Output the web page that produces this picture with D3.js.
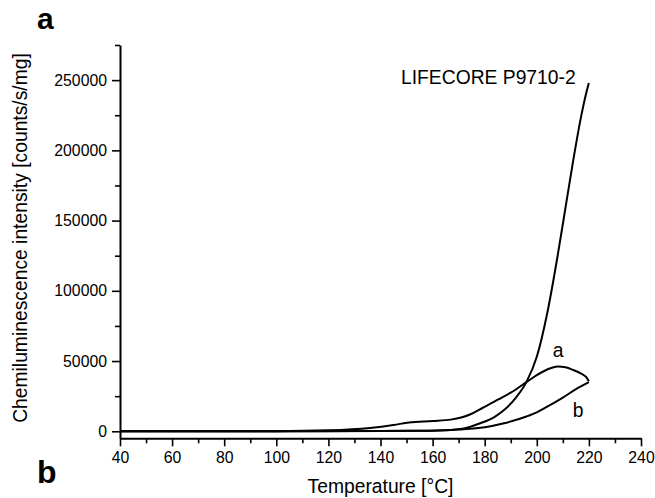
<!DOCTYPE html>
<html>
<head>
<meta charset="utf-8">
<script src="https://cdn.jsdelivr.net/npm/d3@7"></script>
<style>
  body { margin: 0; background: #fff; }
  text { font-family: "Liberation Sans", Arial, sans-serif; fill: #000; }
</style>
</head>
<body>
<div id="chart"></div>
<script>
const w = 655
const h = 498

// Temperature [°C] and intensity [counts/s/mg]
const mainTemps = [40, 100, 130, 150, 165, 172, 178, 184, 188, 192, 196, 200, 204, 208, 211, 214, 217, 219, 220]
const mainVals = [0, 50, 150, 300, 800, 2000, 5500, 10500, 16000, 24000, 35000, 53000, 84000, 125000, 159000, 193000, 224000, 241000, 248000]

const aTemps = [40, 100, 120, 136, 145, 151, 160, 167, 171, 175, 178, 185, 190, 196, 200, 204, 208, 211, 214, 217, 219, 220]
const aVals = [0, 100, 700, 2400, 4500, 6300, 7300, 8300, 9800, 12500, 15400, 22500, 27500, 35000, 40000, 44000, 46200, 45600, 43600, 41000, 38500, 35600]

const bTemps = [40, 120, 160, 170, 180, 187, 196, 200, 204, 210, 216, 220]
const bVals = [0, 100, 400, 1200, 2800, 5500, 10500, 13500, 17500, 24000, 31000, 35000]

const xTicks = [40, 60, 80, 100, 120, 140, 160, 180, 200, 220, 240]
const xMinor = [50, 70, 90, 110, 130, 150, 170, 190, 210, 230]
const yTicks = [0, 50000, 100000, 150000, 200000, 250000]
const yMinor = [25000, 75000, 125000, 175000, 225000, 275000]

const svg = d3.select("#chart")
  .append("svg")
    .attr("width", w)
    .attr("height", h)

const x = d3.scaleLinear().domain([40, 240]).range([120, 641])
const y = d3.scaleLinear().domain([-5000, 275000]).range([438.3, 45])

// --- axes ---
const xAxis = svg.append("g")
  .attr("transform", `translate(0, ${y(-5000)})`)
  .call(d3.axisBottom(x).tickValues(xTicks).tickSize(8).tickSizeOuter(0).tickPadding(5))
xAxis.append("g")
  .call(d3.axisBottom(x).tickValues(xMinor).tickSize(5).tickFormat(""))
  .select(".domain").remove()

const yAxis = svg.append("g")
  .attr("transform", `translate(${x(40)}, 0)`)
  .call(d3.axisLeft(y).tickValues(yTicks).tickSize(8).tickSizeOuter(0).tickPadding(5).tickFormat(d3.format("d")))
yAxis.append("g")
  .call(d3.axisLeft(y).tickValues(yMinor).tickSize(5).tickFormat(""))
  .select(".domain").remove()

svg.selectAll(".domain").attr("stroke", "#000").attr("stroke-width", 2)
svg.selectAll(".tick line").attr("stroke", "#000").attr("stroke-width", 1.6)
svg.selectAll(".tick text")
  .style("font-family", "Liberation Sans, Arial, sans-serif")
  .style("font-size", "15.8px")
  .attr("fill", "#000")

// --- curves ---
const line = d3.line()
  .x(d => x(d[0]))
  .y(d => y(d[1]))
  .curve(d3.curveMonotoneX)

const series = [
  d3.zip(mainTemps, mainVals),
  d3.zip(aTemps, aVals),
  d3.zip(bTemps, bVals)
]

svg.selectAll(".curve")
  .data(series)
  .join("path")
    .attr("class", "curve")
    .attr("d", line)
    .attr("fill", "none")
    .attr("stroke", "#000")
    .attr("stroke-width", 2)

// --- labels ---
svg.append("text")
  .attr("x", 380.5)
  .attr("y", 493)
  .attr("text-anchor", "middle")
  .style("font-size", "19.3px")
  .text("Temperature [°C]")

svg.append("text")
  .attr("transform", "translate(27, 238) rotate(-90)")
  .attr("text-anchor", "middle")
  .style("font-size", "19.3px")
  .text("Chemiluminescence intensity [counts/s/mg]")

svg.append("text")
  .attr("x", 401)
  .attr("y", 84)
  .style("font-size", "19.3px")
  .text("LIFECORE P9710-2")

svg.append("text")
  .attr("x", 558)
  .attr("y", 357)
  .attr("text-anchor", "middle")
  .style("font-size", "19.3px")
  .text("a")

svg.append("text")
  .attr("x", 578)
  .attr("y", 417)
  .attr("text-anchor", "middle")
  .style("font-size", "19.3px")
  .text("b")

svg.append("text")
  .attr("x", 37)
  .attr("y", 29)
  .style("font-size", "30px")
  .style("font-weight", "bold")
  .text("a")

svg.append("text")
  .attr("x", 37)
  .attr("y", 483)
  .style("font-size", "32px")
  .style("font-weight", "bold")
  .text("b")
</script>
</body>
</html>
